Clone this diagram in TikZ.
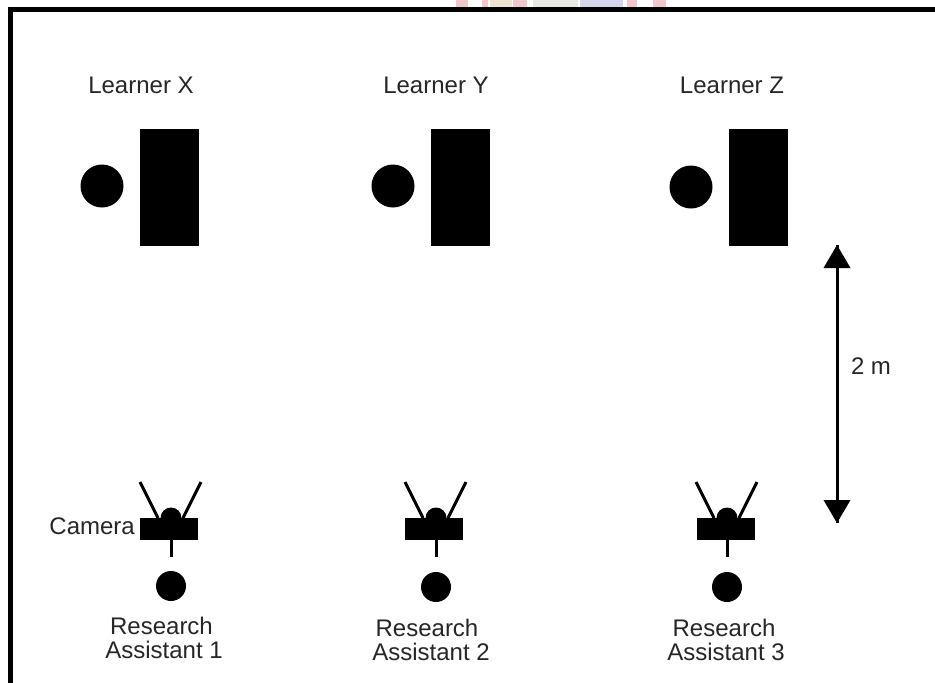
\documentclass[tikz,border=0pt]{standalone}
\usepackage{fontspec}
\setmainfont{Liberation Sans}
\newcommand{\camera}[4]{%
  % #1 name, #2 stem/dome x, #3 left of body, #4 circle y
  \node[bar, minimum width=58pt, minimum height=22pt] (#1body) at (#3+29,529) {};
  \fill (#2-10.5,518) arc[start angle=180,end angle=360,radius=10.5] -- cycle;
  \coordinate (#1la) at (#2-31,482);
  \coordinate (#1lb) at (#2-13,518);
  \coordinate (#1ra) at (#2+30,482);
  \coordinate (#1rb) at (#2+12,518);
  \draw[thin line] (#1la) -- (#1lb);
  \draw[thin line] (#1ra) -- (#1rb);
  \node[person, minimum size=30pt] (#1p) at (#2,#4) {};
  \coordinate (#1s) at (#2,557);
  \draw[thin line] (#2,540) -- (#1s);
}
\tikzset{
  bar/.style={fill=black, draw=none, inner sep=0pt, outer sep=0pt, rectangle},
  person/.style={fill=black, draw=none, circle, inner sep=0pt, outer sep=0pt},
  thin line/.style={line width=3pt, black},
  lab/.style={font=\fontsize{24pt}{24pt}\selectfont, text=black!85, inner sep=0pt, align=center},
  desk/.style={bar, minimum width=59pt, minimum height=117pt},
  head/.style={person, minimum size=43pt},
}
\definecolor{wmpink}{HTML}{F3C6CC}
\definecolor{wmtan}{HTML}{EEE3CF}
\definecolor{wmgrey}{HTML}{E8E8E2}
\definecolor{wmblue}{HTML}{D3D5EA}
\begin{document}
\begin{tikzpicture}[x=1pt,y=-1pt]
\useasboundingbox (0,0) rectangle (935,683);
% frame
\fill (8,7) rectangle (935,12);
\fill (8,7) rectangle (13,683);
% watermark fragments
\fill[wmpink] (456,0) rectangle (468,7);
\fill[wmpink] (482,0) rectangle (488,7);
\fill[wmtan] (490,0) rectangle (512,7);
\fill[wmpink] (513,0) rectangle (527,7);
\fill[wmgrey] (533,0) rectangle (578,7);
\fill[wmblue] (580,0) rectangle (623,7);
\fill[wmpink] (627,0) rectangle (637,7);
\fill[wmpink] (653,0) rectangle (666,7);
% learners
\node[lab] (lx) at (141,85) {Learner X};
\node[lab] (ly) at (436,85) {Learner Y};
\node[lab] (lz) at (732,85) {Learner Z};
\node[head] (hx) at (102,186) {};
\node[head] (hy) at (393,186) {};
\node[head] (hz) at (691,187) {};
\node[desk] (dx) at (169,187.5) {};
\node[desk] (dy) at (460.5,187.5) {};
\node[desk] (dz) at (758,187.5) {};
% cameras
\camera{a}{171}{140}{586}
\camera{b}{436}{405}{587}
\camera{c}{727}{697}{587}
\node[lab, anchor=east] (cam) at (135,526) {Camera};
\node[lab] (ra) at (164,638) {Research\hspace*{5pt}\\Assistant 1};
\node[lab] (rb) at (431,639.5) {Research\hspace*{8pt}\\Assistant 2};
\node[lab] (rc) at (726,639.5) {Research\hspace*{4pt}\\Assistant 3};
% dimension
\coordinate (t) at (837,245);
\coordinate (b) at (837,523);
\draw[thin line] (t) -- (b);
\fill (t) -- (850.5,268) -- (823.5,268) -- cycle;
\fill (b) -- (850.5,500) -- (823.5,500) -- cycle;
\node[lab] (dim) at (871,366) {2 m};
\end{tikzpicture}
\end{document}
